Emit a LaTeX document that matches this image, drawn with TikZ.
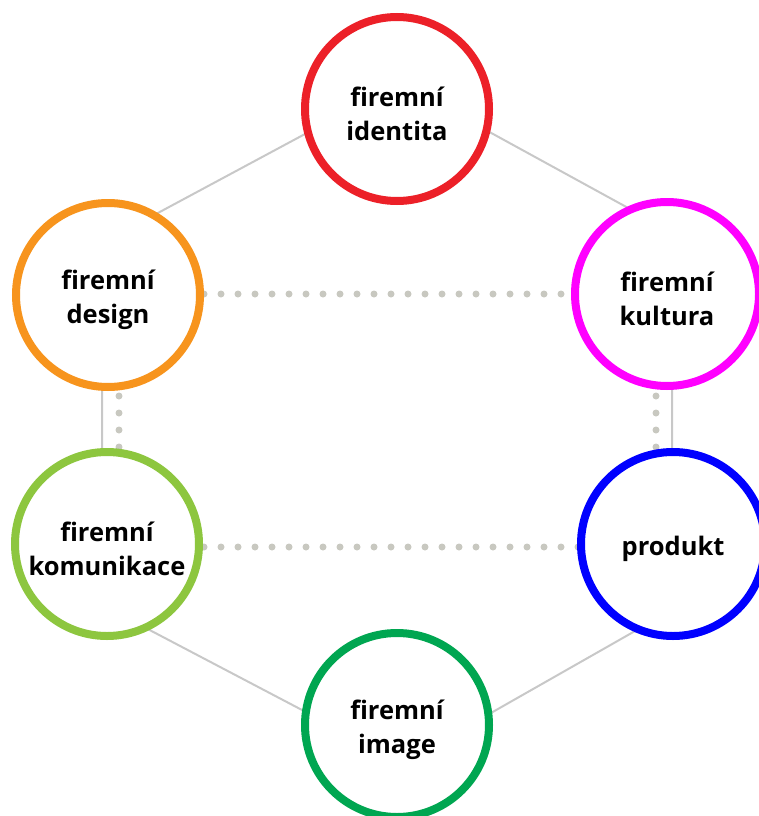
\documentclass[tikz,border=0pt]{standalone}
\usepackage{fontspec}
\setmainfont{Open Sans}
\definecolor{cred}{RGB}{236,32,40}
\definecolor{corange}{RGB}{247,148,29}
\definecolor{cmagenta}{RGB}{255,0,255}
\definecolor{clime}{RGB}{141,198,63}
\definecolor{cblue}{RGB}{0,0,255}
\definecolor{cgreen}{RGB}{0,166,81}
\definecolor{linegray}{RGB}{200,200,200}
\definecolor{dotgray}{RGB}{200,200,192}
\begin{document}
\begin{tikzpicture}[x=1pt,y=-1pt,
  hexline/.style={draw=linegray, line width=2pt},
  dotline/.style={draw=dotgray, line width=7pt, line cap=round, dash pattern=on 0pt off 17pt},
  ring/.style={circle, draw=#1, line width=8pt, fill=white, minimum size=184pt, inner sep=0pt},
  ringtext/.style={align=center, text=black, yshift=-4.5pt, inner sep=0pt,
    font=\fontsize{25.5}{34}\selectfont\bfseries}]
\useasboundingbox (0,0) rectangle (759,816);
\clip (0,0) rectangle (759,816);
% hexagon vertices
\coordinate (h1) at (400,83);
\coordinate (h2) at (672,232);
\coordinate (h3) at (672,610);
\coordinate (h4) at (403,763);
\coordinate (h5) at (102,605);
\coordinate (h6) at (102,243);
\draw[hexline] (h1) -- (h2) -- (h3) -- (h4) -- (h5) -- (h6) -- cycle;
% dotted rectangle
\coordinate (d1) at (119,294);
\coordinate (d2) at (656,294);
\coordinate (d3) at (656,547);
\coordinate (d4) at (119,547);
\draw[dotline] (d1) -- (d2);
\draw[dotline] (d4) -- (d3);
\draw[dotline] (d1) -- (d4);
\draw[dotline] (d2) -- (d3);
% circles
\node[ring=cred, label={[ringtext]center:{firemní\\identita}}] (identita) at (397,109) {};
\node[ring=corange, label={[ringtext]center:{firemní\\design}}] (design) at (108,295) {};
\node[ring=cmagenta, label={[ringtext]center:{firemní\\kultura}}] (kultura) at (667,294) {};
\node[ring=clime, label={[ringtext]center:{firemní\\komunikace}}] (komunikace) at (107,544) {};
\node[ring=cblue, label={[ringtext]center:{produkt}}] (produkt) at (673,544) {};
\node[ring=cgreen, label={[ringtext]center:{firemní\\image}}] (image) at (397,725) {};
\end{tikzpicture}
\end{document}
